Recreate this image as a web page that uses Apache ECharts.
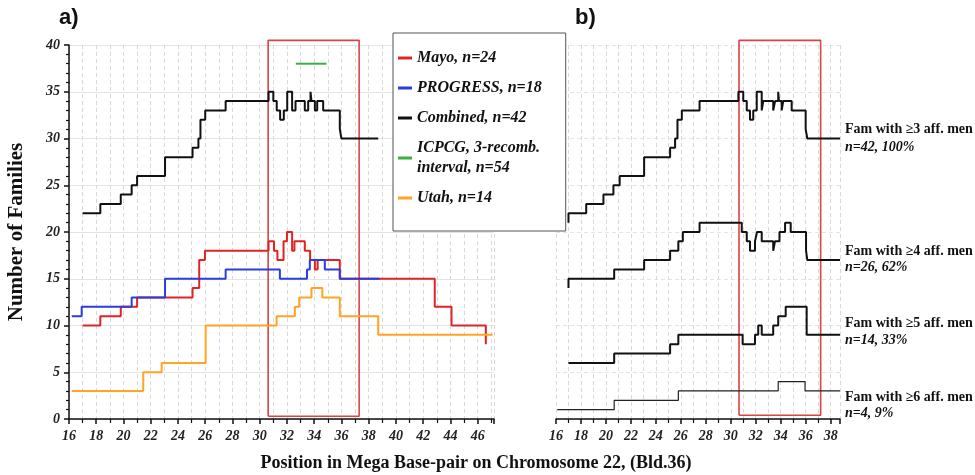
<!DOCTYPE html>
<html>
<head>
<meta charset="utf-8">
<script src="https://cdn.jsdelivr.net/npm/echarts@6/dist/echarts.min.js"></script>
<style>html,body{margin:0;padding:0;background:#fff}#c{width:975px;height:475px}</style>
</head>
<body>
<div id="c"></div>
<script>
// ---- Panel a data (step lines: [start of level, level]) ----
const mayo = [[17,10],[18.3,11],[19.8,12],[21.0,13],[25.07,14],[25.56,17],[25.98,18],[30.65,19],[31.05,18],[31.3,17],[31.75,19],[32.0,20],[32.38,18],[32.55,19],[33.31,18],[33.7,17],[34.05,16],[34.25,17],[35.88,15],[42.85,12],[44.08,10],[46.6,8]];
const progress = [[16.2,11],[16.93,12],[20.6,13],[23.05,15],[27.5,16],[31.48,15],[33.47,16],[33.68,17],[34.78,16],[35.88,15],[38.8,15]];
const combined = [[17,22],[18.3,23],[19.8,24],[20.6,25],[21.0,26],[23.05,28],[25.07,29],[25.5,30],[25.65,32],[26.0,33],[27.5,34],[30.65,35],[31.0,34],[31.25,33],[31.5,32],[31.77,33],[32.02,35],[32.38,33],[32.63,34],[33.31,33],[33.56,34],[33.73,35],[33.8,34],[34.05,33],[34.22,34],[34.66,33],[35.88,31],[36.0,30],[38.7,30]];
const icpcg = [[32.65,38],[34.9,38]];
const utah = [[16.2,3],[21.45,5],[22.8,6],[26.03,10],[31.24,11],[32.58,12],[32.9,13],[33.8,14],[34.6,13],[35.88,11],[38.7,9],[47.1,9]];
const boxA = [[30.62,0.3],[30.62,40.5],[37.3,40.5],[37.3,0.3],[30.62,0.3]];

// ---- Panel b data ----
const fam3 = [[17,21],[17,22],[18.42,23],[19.8,24],[20.6,25],[21.1,26],[23.06,28],[25.14,29],[25.54,30],[25.73,32],[26.08,33],[27.5,34],[30.61,35],[31.0,34],[31.28,33],[31.54,32],[31.8,33],[32.08,35],[32.48,33],[32.6,34],[33.4,33],[33.55,34],[33.8,35],[33.86,34],[34.08,33],[34.2,34],[34.88,33],[36.0,31],[36.13,30],[38.75,30]];
const fam4 = [[17,14],[17,15],[20.66,16],[23.06,17],[25.14,18],[25.8,19],[26.16,20],[27.5,21],[30.88,20],[31.28,19],[31.54,18],[31.94,19],[32.1,20],[32.48,19],[33.4,18],[33.54,19],[33.9,20],[34.35,21],[34.8,20],[36.03,18],[36.13,17],[38.75,17]];
const fam5 = [[17,6],[20.66,7],[25.14,8],[25.8,9],[30.95,8],[31.94,9],[32.2,10],[32.48,9],[33.4,10],[33.8,11],[34.4,12],[36.08,9],[38.75,9]];
const fam6 = [[16.1,1],[20.66,2],[25.8,3],[33.8,4],[35.95,3],[38.75,3]];
const boxB = [[30.66,0.4],[30.66,40.5],[37.2,40.5],[37.2,0.4],[30.66,0.4]];

const seriesNames = ['Mayo, n=24','PROGRESS, n=18','Combined, n=42','ICPCG, 3-recomb.\ninterval, n=54','Utah, n=14'];
const famLabels = [
  ['Fam with \u22653 aff. men','n=42, 100%',129,147],
  ['Fam with \u22654 aff. men','n=26, 62%',251,267],
  ['Fam with \u22655 aff. men','n=14, 33%',323,340],
  ['Fam with \u22656 aff. men','n=4, 9%',397,413]
];
const xTitle = 'Position in Mega Base-pair on Chromosome 22, (Bld.36)';

const SERIF = '"Liberation Serif", "DejaVu Serif", serif';
const tickLabel = {fontFamily: SERIF, fontWeight: 'bold', fontStyle: 'italic', fontSize: 14, color: '#222'};

function xAxisCfg(grid, max) {
  return {
    type: 'value', gridIndex: grid, min: 16, max: max, interval: 2,
    axisLine: {show: true, onZero: false, lineStyle: {color: '#111', width: 1.5}},
    axisTick: {show: true, length: 5, lineStyle: {color: '#111', width: 1.5}},
    minorTick: {show: true, splitNumber: 2, length: 4, lineStyle: {color: '#111', width: 1.2}},
    splitLine: {show: true, lineStyle: {color: '#d9d9d9', type: [4,3], width: 1}},
    minorSplitLine: {show: true, lineStyle: {color: '#d9d9d9', type: [4,3], width: 1}},
    axisLabel: Object.assign({margin: 10, showMaxLabel: false}, tickLabel)
  };
}

function stepSeries(name, data, color, xi, width) {
  return {
    name: name, type: 'line', xAxisIndex: xi, yAxisIndex: xi, data: data,
    step: 'end', symbol: 'none', showSymbol: false,
    lineStyle: {color: color, width: width || 2}, itemStyle: {color: color},
    animation: false, silent: true
  };
}

const chart = echarts.init(document.getElementById('c'), null, {renderer: 'canvas'});

const graphics = [
  {type: 'text', left: 59, top: 7, style: {text: 'a)', font: 'bold 22px "Liberation Sans", Arial, sans-serif', fill: '#111'}},
  {type: 'text', left: 575, top: 7, style: {text: 'b)', font: 'bold 22px "Liberation Sans", Arial, sans-serif', fill: '#111'}},
  {type: 'text', x: 476, y: 463, style: {text: xTitle, font: 'bold 18px ' + SERIF, fill: '#111', textAlign: 'center', textVerticalAlign: 'middle'}}
];
famLabels.forEach(function (f) {
  graphics.push({type: 'text', x: 845, y: f[2], style: {text: f[0], font: 'bold 14px ' + SERIF, fill: '#111', textVerticalAlign: 'middle'}});
  graphics.push({type: 'text', x: 845, y: f[3], style: {text: f[1], font: 'italic bold 14px ' + SERIF, fill: '#111', textVerticalAlign: 'middle'}});
});

const option = {
  backgroundColor: '#fff',
  animation: false,
  grid: [
    {left: 69, right: 481, top: 45, bottom: 56},
    {left: 556, right: 135, top: 45, bottom: 56}
  ],
  xAxis: [xAxisCfg(0, 47.2), xAxisCfg(1, 38.75)],
  yAxis: [
    {
      type: 'value', gridIndex: 0, min: 0, max: 40, interval: 5,
      axisLine: {show: true, lineStyle: {color: '#111', width: 1.5}},
      axisTick: {show: true, length: 5, lineStyle: {color: '#111', width: 1.5}},
      minorTick: {show: true, splitNumber: 5, length: 3, lineStyle: {color: '#111', width: 1.2}},
      splitLine: {show: true, lineStyle: {color: '#e4e4e4', width: 1}},
      axisLabel: Object.assign({margin: 9}, tickLabel),
      name: 'Number of Families', nameLocation: 'middle', nameGap: 42,
      nameTextStyle: {fontFamily: SERIF, fontWeight: 'bold', fontSize: 21, color: '#111'}
    },
    {
      type: 'value', gridIndex: 1, min: 0, max: 40, interval: 5,
      axisLine: {show: false}, axisTick: {show: false}, axisLabel: {show: false},
      splitLine: {show: true, lineStyle: {color: '#e4e4e4', width: 1, type: [4,3]}}
    }
  ],
  legend: {
    data: seriesNames, orient: 'vertical', left: 393, top: 33,
    padding: [15, 24, 23, 5], itemGap: 10, itemWidth: 14, itemHeight: 3, icon: 'rect',
    borderColor: '#555', borderWidth: 1, backgroundColor: '#fff', selectedMode: false,
    textStyle: {fontFamily: SERIF, fontWeight: 'bold', fontStyle: 'italic', fontSize: 16, lineHeight: 20, color: '#111', padding: [0,0,0,0]}
  },
  graphic: graphics,
  series: [
    {type: 'line', xAxisIndex: 0, yAxisIndex: 0, data: boxA, symbol: 'none', clip: false, silent: true,
     lineStyle: {color: '#d94545', width: 1.6}, z: 1},
    stepSeries(seriesNames[0], mayo, '#e02424', 0),
    stepSeries(seriesNames[1], progress, '#2a3ee0', 0),
    stepSeries(seriesNames[4], utah, '#ffa424', 0),
    stepSeries(seriesNames[2], combined, '#111111', 0),
    stepSeries(seriesNames[3], icpcg, '#3cb043', 0),
    {type: 'line', xAxisIndex: 1, yAxisIndex: 1, data: boxB, symbol: 'none', clip: false, silent: true,
     lineStyle: {color: '#d94545', width: 1.6}, z: 1},
    stepSeries('fam3', fam3, '#111111', 1, 2),
    stepSeries('fam4', fam4, '#111111', 1, 2),
    stepSeries('fam5', fam5, '#111111', 1, 2),
    stepSeries('fam6', fam6, '#222222', 1, 1.2)
  ]
};
chart.setOption(option);
</script>
</body>
</html>
